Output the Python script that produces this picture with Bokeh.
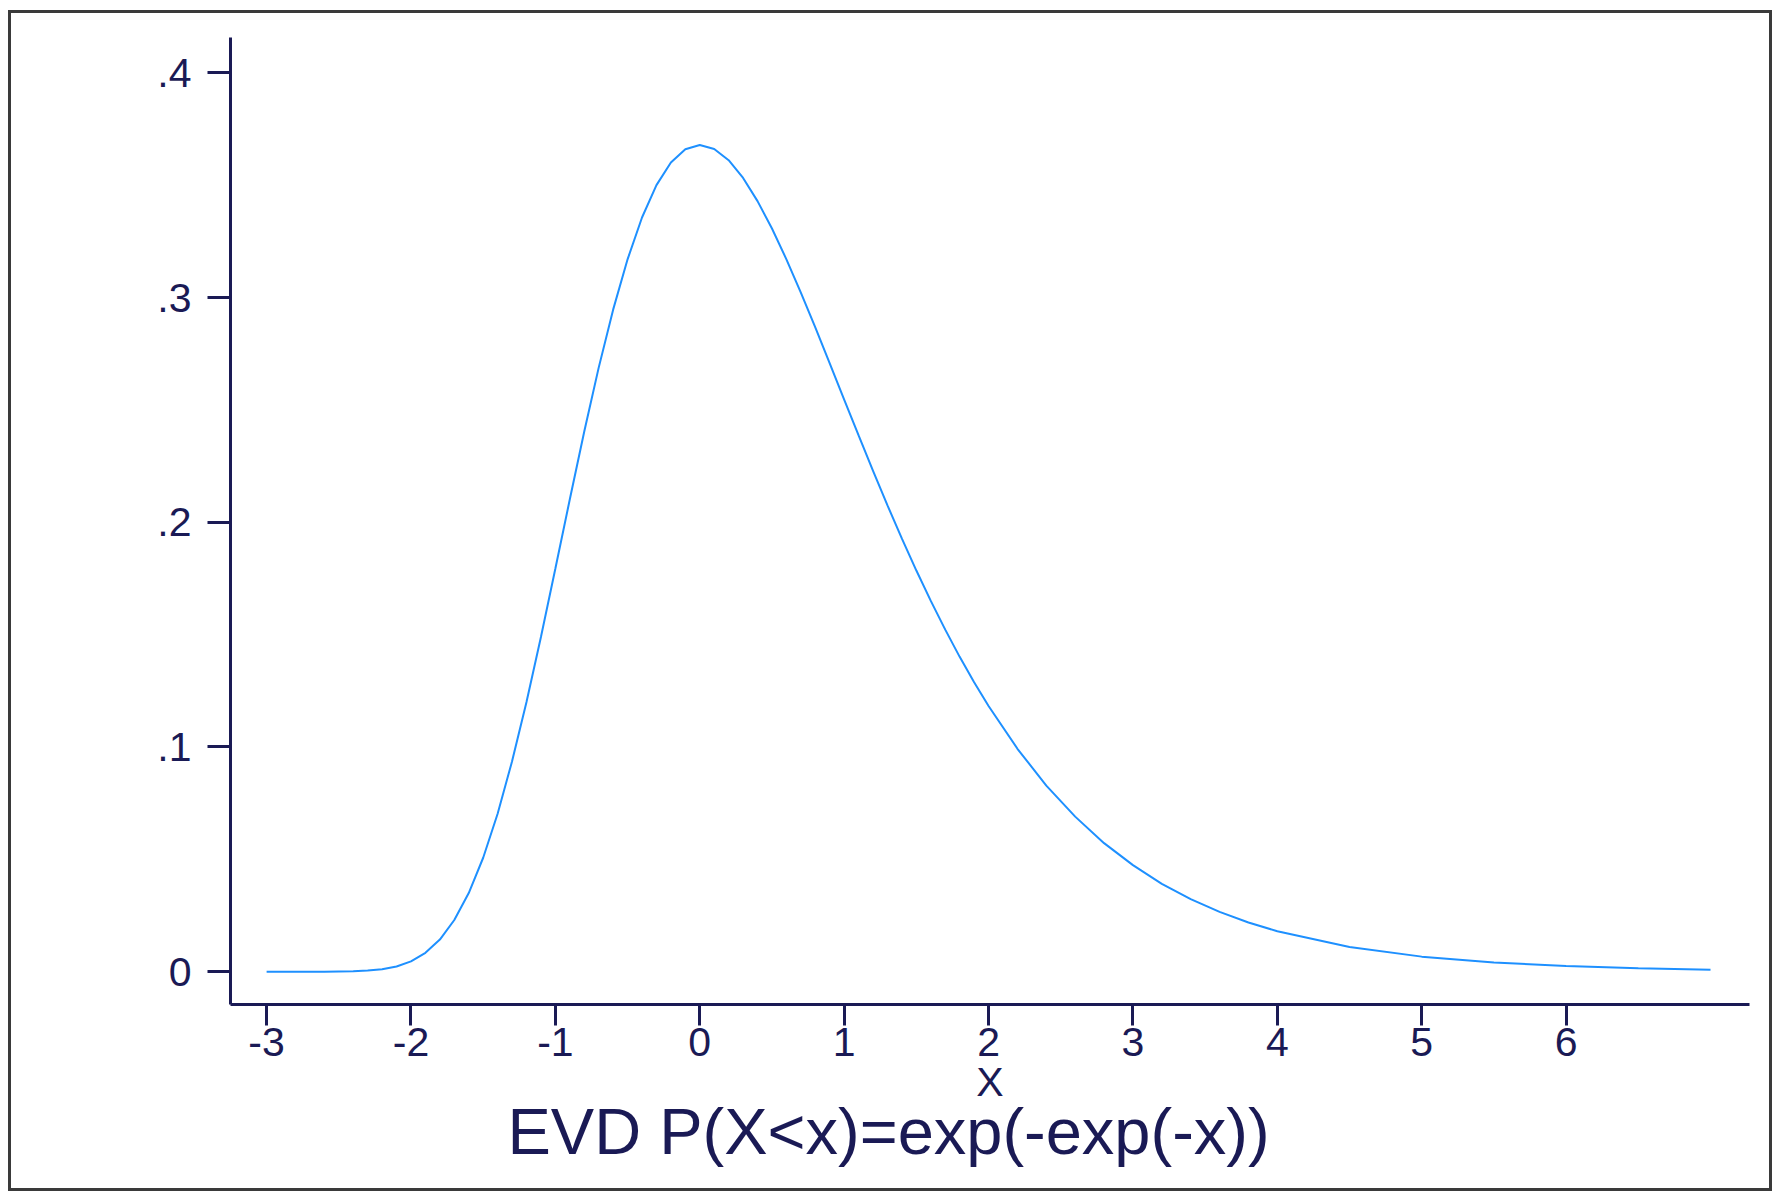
from bokeh.plotting import figure
from bokeh.models import FixedTicker, Range1d, Title
from bokeh.embed import file_html
from bokeh.resources import INLINE

# --- data ---
x_vals = [-3.0, -2.8, -2.6, -2.5, -2.4, -2.3, -2.2, -2.1, -2.0, -1.9, -1.8, -1.7, -1.6, -1.5,
          -1.4, -1.3, -1.2, -1.1, -1.0, -0.9, -0.8, -0.7, -0.6, -0.5, -0.4, -0.3, -0.2, -0.1,
          0.0, 0.1, 0.2, 0.3, 0.4, 0.5, 0.6, 0.7, 0.8, 0.9, 1.0, 1.1, 1.2, 1.3, 1.4, 1.5,
          1.6, 1.7, 1.8, 1.9, 2.0, 2.2, 2.4, 2.6, 2.8, 3.0, 3.2, 3.4, 3.6, 3.8, 4.0, 4.5,
          5.0, 5.5, 6.0, 6.5, 7.0]
density = [0.0000, 0.0000, 0.0000, 0.0001, 0.0002, 0.0005, 0.0011, 0.0023, 0.0046, 0.0084,
           0.0143, 0.0230, 0.0350, 0.0507, 0.0703, 0.0936, 0.1200, 0.1489, 0.1794, 0.2102,
           0.2404, 0.2688, 0.2946, 0.3170, 0.3356, 0.3500, 0.3601, 0.3660, 0.3679, 0.3661,
           0.3611, 0.3532, 0.3429, 0.3307, 0.3170, 0.3022, 0.2867, 0.2707, 0.2546, 0.2386,
           0.2229, 0.2075, 0.1927, 0.1785, 0.1650, 0.1522, 0.1401, 0.1288, 0.1182, 0.0992,
           0.0828, 0.0690, 0.0572, 0.0474, 0.0391, 0.0323, 0.0266, 0.0219, 0.0180, 0.0110,
           0.0067, 0.0041, 0.0025, 0.0015, 0.0009]

x_ticks = [-3, -2, -1, 0, 1, 2, 3, 4, 5, 6]
x_tick_labels = ["-3", "-2", "-1", "0", "1", "2", "3", "4", "5", "6"]
y_ticks = [0.0, 0.1, 0.2, 0.3, 0.4]
y_tick_labels = ["0", ".1", ".2", ".3", ".4"]
x_axis_label = "X"
title_text = "EVD P(X<x)=exp(-exp(-x))"

FONT = "Liberation Sans"
NAVY = "#1a1a55"
CURVE = "#1e90ff"

p = figure(width=1764, height=1181, output_backend="svg", toolbar_location=None,
           x_range=Range1d(-3.25, 7.27), y_range=Range1d(-0.0146, 0.4157),
           min_border_left=219, min_border_right=26, min_border_top=24, min_border_bottom=190,
           background_fill_color="white", border_fill_color="white")
p.styles = {"border": "3px solid #3a3a3a", "margin-left": "8px", "margin-top": "10px"}
p.outline_line_color = None
p.grid.visible = False

p.line(x_vals, density, line_color=CURVE, line_width=2)

for ax in (p.xaxis[0], p.yaxis[0]):
    ax.axis_line_color = NAVY
    ax.axis_line_width = 3
    ax.major_tick_line_color = NAVY
    ax.major_tick_line_width = 3
    ax.minor_tick_line_color = None
    ax.major_tick_in = 0
    ax.major_label_text_font = FONT
    ax.major_label_text_font_size = "41px"
    ax.major_label_text_color = NAVY
    ax.axis_label_text_font = FONT
    ax.axis_label_text_font_size = "41px"
    ax.axis_label_text_color = NAVY
    ax.axis_label_text_font_style = "normal"

xa = p.xaxis[0]
xa.ticker = FixedTicker(ticks=x_ticks)
xa.major_label_overrides = {t: s for t, s in zip(x_ticks, x_tick_labels)}
xa.major_tick_out = 21
xa.major_label_standoff = 2
xa.axis_label = x_axis_label
xa.axis_label_standoff = 0

ya = p.yaxis[0]
ya.ticker = FixedTicker(ticks=y_ticks)
ya.major_label_overrides = {t: s for t, s in zip(y_ticks, y_tick_labels)}
ya.major_tick_out = 23
ya.major_label_standoff = 16
ya.major_label_orientation = "horizontal"

p.add_layout(Title(text=title_text, align="left", offset=277, standoff=-29,
                   text_font=FONT, text_font_size="65px", text_font_style="normal",
                   text_color=NAVY), "below")

open("out.html", "w").write(file_html(p, INLINE))
